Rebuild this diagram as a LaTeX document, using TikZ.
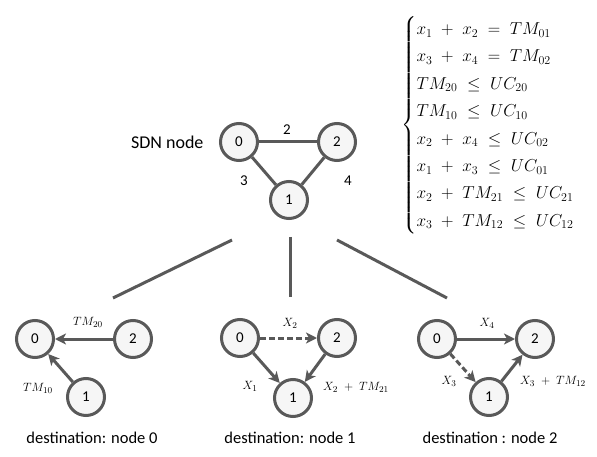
\documentclass[tikz,border=0pt]{standalone}
\usepackage{amsmath}
\usepackage[no-math]{fontspec}
\setmainfont{Carlito}
\usetikzlibrary{arrows.meta}
\definecolor{linegray}{RGB}{89,89,89}
\definecolor{nodefill}{RGB}{246,246,246}
\renewcommand{\arraystretch}{1.37}

\begin{document}
\begin{tikzpicture}[
  x=1pt,y=-1pt,
  font=\fontsize{15}{18}\selectfont,
  vtx/.style={circle,draw=linegray,line width=3pt,fill=nodefill,minimum size=37pt,inner sep=0pt},
  link/.style={draw=linegray,line width=3pt},
  flow/.style={link,-{Stealth[length=11pt,width=11pt,inset=3pt]}},
  dashflow/.style={flow,dash pattern=on 6pt off 3pt},
  lbl/.style={font=\fontsize{13}{15}\selectfont},
  destlabel/.style={font=\fontsize{16.5}{19}\selectfont}
]
\useasboundingbox (0,0) rectangle (597,457);

% SDN topology
\node[anchor=east,font=\fontsize{18}{21}\selectfont] (sdn) at (207,142) {SDN node};
\node[vtx] (t0) at (239,142) {0};
\node[vtx] (t2) at (337,142) {2};
\node[vtx] (t1) at (289,200) {1};
\draw[link] (t0) -- (t2);
\draw[link] (t0) -- (t1);
\draw[link] (t2) -- (t1);
\node (w2) at (287,130) {2};
\node (w3) at (244,181) {3};
\node (w4) at (348,181) {4};

% constraints
\node[anchor=west,inner sep=0pt,font=\fontsize{17}{20}\selectfont] (sys) at (401,125) {$\left\{\begin{array}{@{}l@{}}
x_{1}\;+\;x_{2}\;=\;TM_{01}\\
x_{3}\;+\;x_{4}\;=\;TM_{02}\\
TM_{20}\;\le\;UC_{20}\\
TM_{10}\;\le\;UC_{10}\\
x_{2}\;+\;x_{4}\;\le\;UC_{02}\\
x_{1}\;+\;x_{3}\;\le\;UC_{01}\\
x_{2}\;+\;TM_{21}\;\le\;UC_{21}\\
x_{3}\;+\;TM_{12}\;\le\;UC_{12}
\end{array}\right.$};

% branches
\coordinate (b0s) at (232,240);
\coordinate (b0e) at (113,298);
\coordinate (b1s) at (290,237);
\coordinate (b1e) at (290,297);
\coordinate (b2s) at (337,240);
\coordinate (b2e) at (447,298);
\draw[link] (b0s) -- (b0e);
\draw[link] (b1s) -- (b1e);
\draw[link] (b2s) -- (b2e);

% destination: node 0
\node[vtx] (a0) at (35,339) {0};
\node[vtx] (a2) at (133,339) {2};
\node[vtx] (a1) at (86,397) {1};
\draw[flow] (a2) -- (a0);
\draw[flow] (a1) -- (a0);
\node[lbl] (la20) at (88,322) {$TM_{20}$};
\node[lbl] (la10) at (38,388) {$TM_{10}$};
\node[destlabel] (c0) at (92,438) {destination: node 0};

% destination: node 1
\node[vtx] (m0) at (240,338) {0};
\node[vtx] (m2) at (337,338) {2};
\node[vtx] (m1) at (293,398) {1};
\draw[dashflow] (m0) -- (m2);
\draw[flow] (m0) -- (m1);
\draw[flow] (m2) -- (m1);
\node[lbl] (lm02) at (290,323) {$X_{2}$};
\node[lbl] (lm01) at (250,386) {$X_{1}$};
\node[lbl] (lm21) at (356,387) {$X_{2}\;+\;TM_{21}$};
\node[destlabel] (c1) at (290,438) {destination: node 1};

% destination: node 2
\node[vtx] (r0) at (437,339) {0};
\node[vtx] (r2) at (535,339) {2};
\node[vtx] (r1) at (489,397) {1};
\draw[flow] (r0) -- (r2);
\draw[dashflow] (r0) -- (r1);
\draw[flow] (r1) -- (r2);
\node[lbl] (lr02) at (487,323) {$X_{4}$};
\node[lbl] (lr01) at (449,381) {$X_{3}$};
\node[lbl] (lr12) at (553,381) {$X_{3}\;+\;TM_{12}$};
\node[destlabel] (c2) at (490,438) {destination : node 2};
\end{tikzpicture}
\end{document}
